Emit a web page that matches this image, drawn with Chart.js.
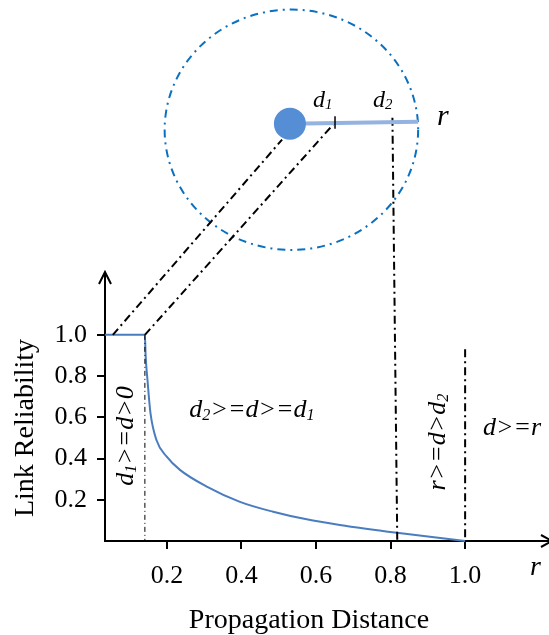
<!DOCTYPE html>
<html>
<head>
<meta charset="utf-8">
<script src="https://cdn.jsdelivr.net/npm/chart.js@4.4.0/dist/chart.umd.min.js"></script>
<style>
  html, body { margin: 0; padding: 0; background: #fff; }
</style>
</head>
<body>
<canvas id="linkChart" width="549" height="635"></canvas>
<script>
// reliability curve
const distance    = [0.034, 0.141, 0.143, 0.148, 0.156, 0.172, 0.199, 0.235, 0.307, 0.396, 0.485, 0.575, 0.664, 0.817, 1.0];
const reliability = [1.0,   1.0,   0.9,   0.78,  0.62,  0.49,  0.41,  0.345, 0.264, 0.19,  0.142, 0.105, 0.078, 0.04,  0.0];
const xTicks = [0.2, 0.4, 0.6, 0.8, 1.0];
const yTicks = [0.2, 0.4, 0.6, 0.8, 1.0];

// sketch of the node and its range, in axis units
const nodeX = [0.530];          const nodeY = [2.024];
const rangeX = [0.530, 0.874];  const rangeY = [2.024, 2.034];
const d1MarkX = [0.651, 0.651]; const d1MarkY = [2.00, 2.06];
const linkAX = [0.055, 0.509];  const linkAY = [1.0, 1.947];
const linkBX = [0.141, 0.651];  const linkBY = [1.0, 2.03];
const d2DropX = [0.805, 0.818]; const d2DropY = [2.053, 0];
const rDropX = [1.0, 1.0];      const rDropY = [0.93, 0];
const d1DropX = [0.141, 0.141]; const d1DropY = [1.0, 0];
const ringCenter = [0.534, 1.995];
const ringRadius = [0.34, 0.583];

const serif = '"Liberation Serif", "Times New Roman", serif';
const dashDot = [8, 4, 2, 4];

function pts(xs, ys) {
  return xs.map((x, i) => ({ x: x, y: ys[i] }));
}

function guide(xs, ys, width, dash) {
  return {
    data: pts(xs, ys),
    borderColor: '#000',
    borderWidth: width,
    borderDash: dash,
    pointRadius: 0,
    clip: false
  };
}

// draws text made of normal and subscript runs
function richText(ctx, parts, size, x, y, align) {
  const widths = parts.map(p => {
    ctx.font = 'italic ' + (p[1] ? size * 0.62 : size) + 'px ' + serif;
    return ctx.measureText(p[0]).width;
  });
  const total = widths.reduce((a, b) => a + b, 0);
  let cx = align === 'center' ? x - total / 2 : x;
  ctx.textAlign = 'left';
  ctx.textBaseline = 'alphabetic';
  parts.forEach((p, i) => {
    ctx.font = 'italic ' + (p[1] ? size * 0.62 : size) + 'px ' + serif;
    ctx.fillText(p[0], cx, p[1] ? y + size * 0.1 : y);
    cx += widths[i];
  });
}

function rotated(ctx, x, y, fn) {
  ctx.save();
  ctx.translate(x, y);
  ctx.rotate(-Math.PI / 2);
  fn();
  ctx.restore();
}

const sketch = {
  id: 'sketch',
  beforeDatasetsDraw(chart) {
    const { ctx, scales: { x, y } } = chart;
    // range circle
    const cx = x.getPixelForValue(ringCenter[0]);
    const cy = y.getPixelForValue(ringCenter[1]);
    const rx = x.getPixelForValue(ringCenter[0] + ringRadius[0]) - cx;
    const ry = cy - y.getPixelForValue(ringCenter[1] + ringRadius[1]);
    ctx.save();
    ctx.setLineDash([8, 5, 2, 5]);
    ctx.strokeStyle = '#0a70c0';
    ctx.lineWidth = 2;
    ctx.beginPath();
    ctx.ellipse(cx, cy, rx, ry, 0, 0, Math.PI * 2);
    ctx.stroke();
    ctx.restore();
  },
  afterDraw(chart) {
    const { ctx, scales: { x, y }, chartArea } = chart;
    ctx.save();

    // node (sits above the plot area, so the point element would skip it)
    ctx.fillStyle = '#558ed5';
    ctx.beginPath();
    ctx.arc(x.getPixelForValue(nodeX[0]), y.getPixelForValue(nodeY[0]), 16, 0, Math.PI * 2);
    ctx.fill();

    // axis arrows
    ctx.strokeStyle = '#000';
    ctx.lineWidth = 2;
    ctx.beginPath();
    ctx.moveTo(chartArea.left - 6, chartArea.top + 11);
    ctx.lineTo(chartArea.left, chartArea.top - 1);
    ctx.lineTo(chartArea.left + 6, chartArea.top + 11);
    ctx.moveTo(chartArea.right - 8, chartArea.bottom - 6);
    ctx.lineTo(chartArea.right + 3, chartArea.bottom);
    ctx.lineTo(chartArea.right - 8, chartArea.bottom + 6);
    ctx.stroke();

    ctx.fillStyle = '#000';

    // labels on the sketch
    richText(ctx, [['d'], ['1', 1]], 24, 313, 107);
    richText(ctx, [['d'], ['2', 1]], 24, 373, 107);
    richText(ctx, [['r']], 30, 437, 125);

    // regions
    richText(ctx, [['d'], ['2', 1], ['>=d>=d'], ['1', 1]], 26, 252, 417, 'center');
    richText(ctx, [['d>=r']], 26, 483, 435);
    rotated(ctx, 133, 436, () => richText(ctx, [['d'], ['1', 1], ['>=d>0']], 26, 0, 0, 'center'));
    rotated(ctx, 445, 442, () => richText(ctx, [['r>=d>d'], ['2', 1]], 26, 0, 0, 'center'));
    richText(ctx, [['r']], 28, 530, 575);

    // axis titles
    ctx.font = '28px ' + serif;
    ctx.textAlign = 'center';
    ctx.textBaseline = 'alphabetic';
    ctx.fillText('Propagation Distance', 309, 628);
    rotated(ctx, 33, 428, () => ctx.fillText('Link Reliability', 0, 0));

    ctx.restore();
  }
};

new Chart(document.getElementById('linkChart'), {
  type: 'line',
  data: {
    datasets: [
      { data: pts(d1MarkX, d1MarkY), borderColor: '#000', borderWidth: 1.5, pointRadius: 0, clip: false },
      { data: pts(rangeX, rangeY), borderColor: '#95b3e0', borderWidth: 4, pointRadius: 0, clip: false },
      guide(linkAX, linkAY, 2, dashDot),
      guide(linkBX, linkBY, 2, dashDot),
      guide(d2DropX, d2DropY, 2, dashDot),
      guide(rDropX, rDropY, 2, dashDot),
      guide(d1DropX, d1DropY, 1, [5, 3, 1, 3]),
      {
        data: pts(distance, reliability),
        borderColor: '#4a7dc0',
        borderWidth: 2,
        pointRadius: 0,
        cubicInterpolationMode: 'monotone',
        clip: false
      }
    ]
  },
  options: {
    responsive: false,
    animation: false,
    layout: { padding: { top: 273, left: 0, right: 0, bottom: 0 } },
    plugins: { legend: { display: false }, tooltip: { enabled: false } },
    scales: {
      x: {
        type: 'linear',
        min: 0.034,
        max: 1.225,
        afterFit: s => { s.height = 94; s.paddingLeft = 0; s.paddingRight = 0; },
        afterBuildTicks: s => { s.ticks = xTicks.map(v => ({ value: v })); },
        ticks: {
          color: '#000',
          padding: 12,
          maxRotation: 0,
          font: { family: serif, size: 26 },
          callback: v => v.toFixed(1)
        },
        grid: { drawOnChartArea: false, drawTicks: true, tickLength: 8, color: '#000', lineWidth: 2 },
        border: { display: true, color: '#000', width: 2 }
      },
      y: {
        min: 0,
        max: 1.3,
        afterFit: s => { s.width = 105; s.paddingTop = 0; s.paddingBottom = 0; },
        afterBuildTicks: s => { s.ticks = yTicks.map(v => ({ value: v })); },
        ticks: {
          color: '#000',
          padding: 10,
          font: { family: serif, size: 26 },
          callback: v => v.toFixed(1)
        },
        grid: { drawOnChartArea: false, drawTicks: true, tickLength: 8, color: '#000', lineWidth: 2 },
        border: { display: true, color: '#000', width: 2 }
      }
    }
  },
  plugins: [sketch]
});
</script>
</body>
</html>
